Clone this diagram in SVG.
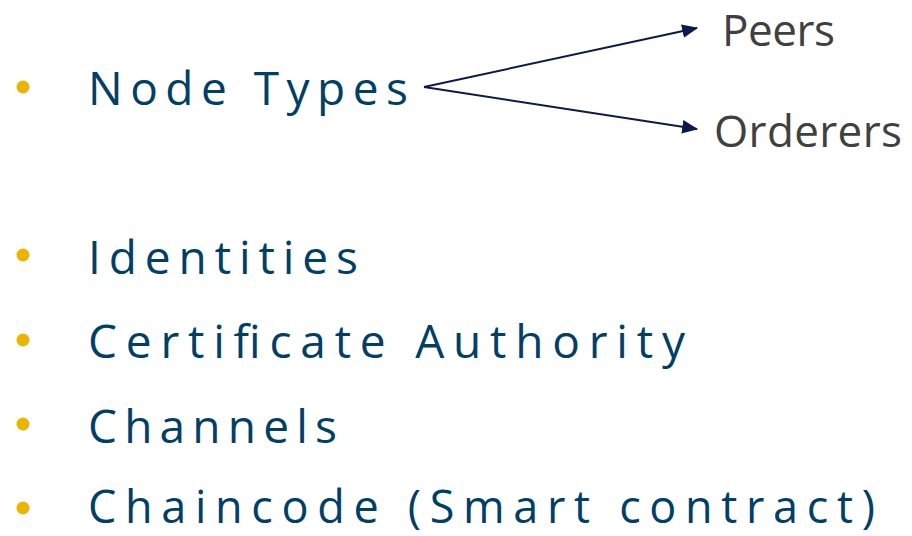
<svg xmlns="http://www.w3.org/2000/svg" width="912" height="536" viewBox="0 0 912 536">
<style>
.item{font-family:"Open Sans","Noto Sans",sans-serif;font-size:46px;fill:#023f66}
.sub{font-family:"Open Sans","Noto Sans",sans-serif;font-size:44px;fill:#404040}
.bul{fill:#e9b500}
.conn{stroke:#0c1a4b;stroke-width:2;fill:none;marker-end:url(#ah)}
</style>
<defs>
<marker id="ah" viewBox="0 0 14 12" refX="13" refY="6" markerWidth="8" markerHeight="7" orient="auto" markerUnits="strokeWidth">
<path d="M0,0 L14,6 L0,12 z" fill="#0c1a4b"/>
</marker>
</defs>
<rect width="912" height="536" fill="#ffffff"/>
<g id="node-types">
<circle class="bul" cx="23" cy="87" r="6.5"/>
<text class="item" x="88" y="105" textLength="320" lengthAdjust="spacing">Node Types</text>
</g>
<g id="peers"><text class="sub" x="722" y="46" textLength="113" lengthAdjust="spacing">Peers</text></g>
<g id="orderers"><text class="sub" x="714" y="147" textLength="188" lengthAdjust="spacing">Orderers</text></g>
<g id="identities">
<circle class="bul" cx="23" cy="255" r="6.5"/>
<text class="item" x="88" y="274" textLength="270" lengthAdjust="spacing">Identities</text>
</g>
<g id="ca">
<circle class="bul" cx="23" cy="340" r="6.5"/>
<text class="item" x="88" y="358" textLength="597" lengthAdjust="spacing">Certificate Authority</text>
</g>
<g id="channels">
<circle class="bul" cx="23" cy="424" r="6.5"/>
<text class="item" x="88" y="443" textLength="249" lengthAdjust="spacing">Channels</text>
</g>
<g id="chaincode">
<circle class="bul" cx="23" cy="508" r="6.5"/>
<text class="item" x="88" y="523" style="font-size:45px" textLength="787" lengthAdjust="spacing">Chaincode (Smart contract)</text>
</g>
<g id="connectors">
<line class="conn" x1="424" y1="87" x2="697" y2="28"/>
<line class="conn" x1="424" y1="87" x2="697" y2="129"/>
</g>
</svg>
